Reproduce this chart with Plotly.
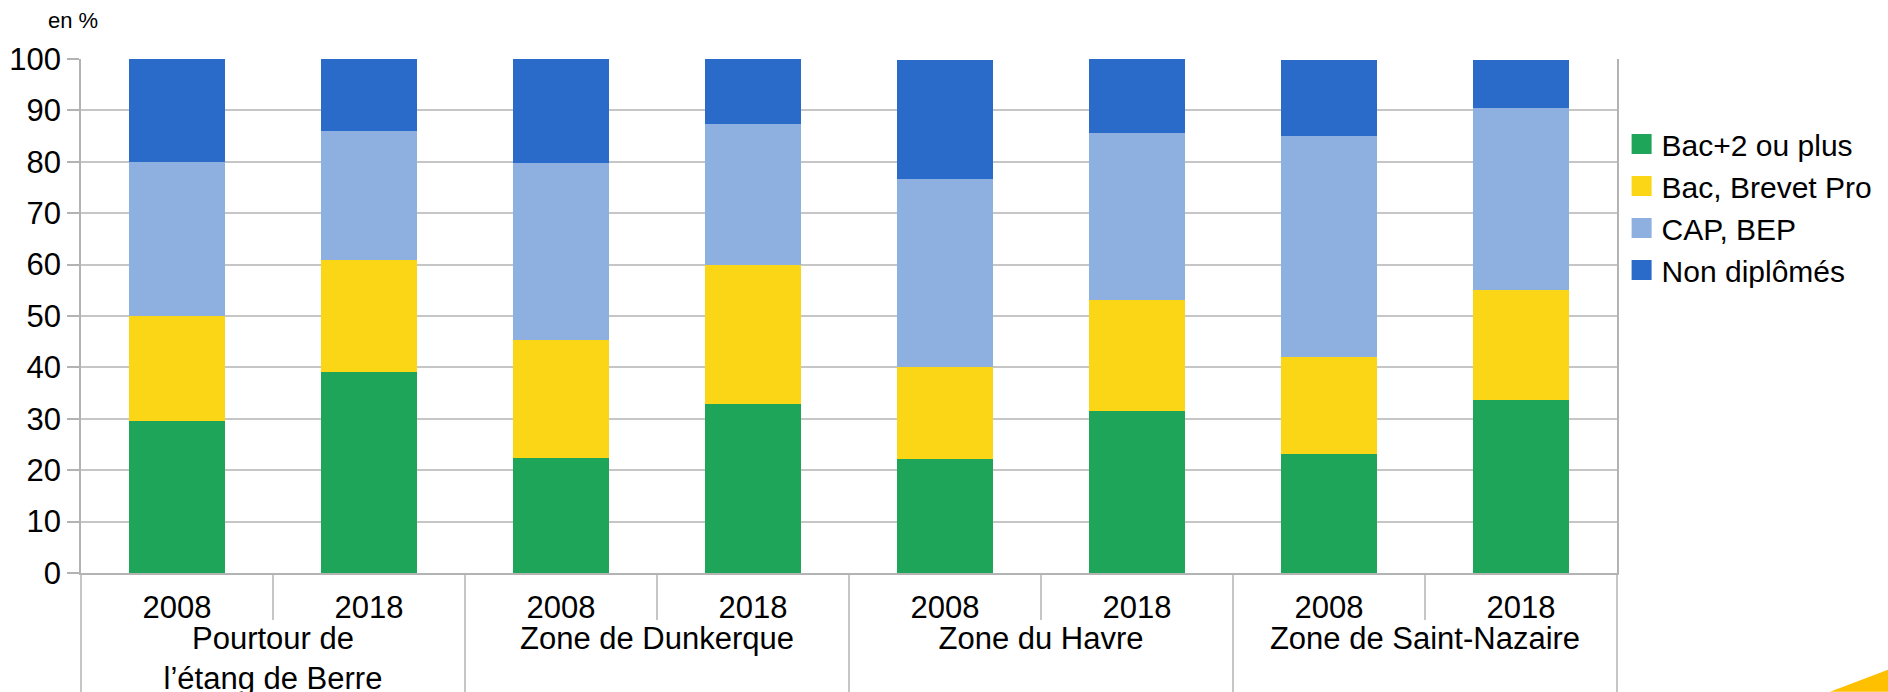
import plotly.graph_objects as go

groups = ["Pourtour de<br>l’étang de Berre", "Zone de Dunkerque", "Zone du Havre", "Zone de Saint-Nazaire"]
years = ["2008", "2018"]

series_names = ["Bac+2 ou plus", "Bac, Brevet Pro", "CAP, BEP", "Non diplômés"]
bac2_plus = [29.6, 39.2, 22.4, 32.9, 22.2, 31.6, 23.2, 33.7]
bac_brevet = [20.4, 21.6, 23.0, 27.1, 17.9, 21.6, 18.9, 21.4]
cap_bep = [30.0, 25.2, 34.4, 27.4, 36.6, 32.5, 43.0, 35.4]
non_diplomes = [20.0, 14.0, 20.2, 12.6, 23.2, 14.3, 14.8, 9.4]
colors = ["#1EA55A", "#FAD616", "#8EB0E0", "#2A6BC9"]

x_outer = [g for g in groups for _ in years]
x_inner = [y for _ in groups for y in years]

FONT = "Liberation Sans, Arial, sans-serif"

fig = go.Figure()
for name, vals, col in zip(series_names, [bac2_plus, bac_brevet, cap_bep, non_diplomes], colors):
    fig.add_trace(go.Bar(
        x=[x_outer, x_inner], y=vals, name=name, showlegend=False,
        marker=dict(color=col, line=dict(width=0)),
    ))
# legend entries with larger square swatches
for name, col in zip(series_names, colors):
    fig.add_trace(go.Scatter(
        x=[[x_outer[0]], [x_inner[0]]], y=[None], name=name, mode="markers",
        marker=dict(symbol="square", size=16, color=col, line=dict(color=col, width=4)),
        showlegend=True, hoverinfo="skip",
    ))

fig.update_layout(
    width=1888, height=692,
    barmode="stack", bargap=0.495,
    margin=dict(l=81, r=271, t=59, b=119, autoexpand=False),
    paper_bgcolor="white", plot_bgcolor="white",
    font=dict(family=FONT, size=30, color="black"),
    legend=dict(x=1.003, xanchor="left", y=0.885, yanchor="top",
                font=dict(size=30), traceorder="normal", itemsizing="trace",
                bgcolor="rgba(0,0,0,0)"),
    showlegend=True,
)
fig.update_yaxes(
    range=[0, 100], dtick=10, tick0=0,
    showgrid=True, gridcolor="#c6c6c6", gridwidth=1.5,
    showline=True, linecolor="#b3b3b3", linewidth=1.5, mirror=True,
    ticks="outside", ticklen=12, tickcolor="#b3b3b3", tickwidth=1.5,
    tickfont=dict(size=31), zeroline=False,
)
fig.update_xaxes(
    showline=True, linecolor="#b3b3b3", linewidth=1.5,
    ticks="outside", tickson="boundaries", ticklen=45, tickcolor="#c6c6c6", tickwidth=1.5,
    showdividers=True, dividercolor="#c6c6c6", dividerwidth=1.5,
    tickfont=dict(size=31), ticklabelstandoff=6,
)

fig.add_annotation(text="en %", xref="paper", yref="paper", x=-0.0225, y=1.0745,
                   xanchor="left", yanchor="middle", showarrow=False,
                   font=dict(size=22, family=FONT, color="black"))

fig.add_shape(type="path", xref="paper", yref="paper",
              path="M 1.1387 -0.231 L 1.1765 -0.231 L 1.1765 -0.188 Z",
              fillcolor="#FFC000", line=dict(width=0), layer="above")

fig.write_html("out.html", config={"displayModeBar": False},
               post_script="document.body.style.margin='0';")
